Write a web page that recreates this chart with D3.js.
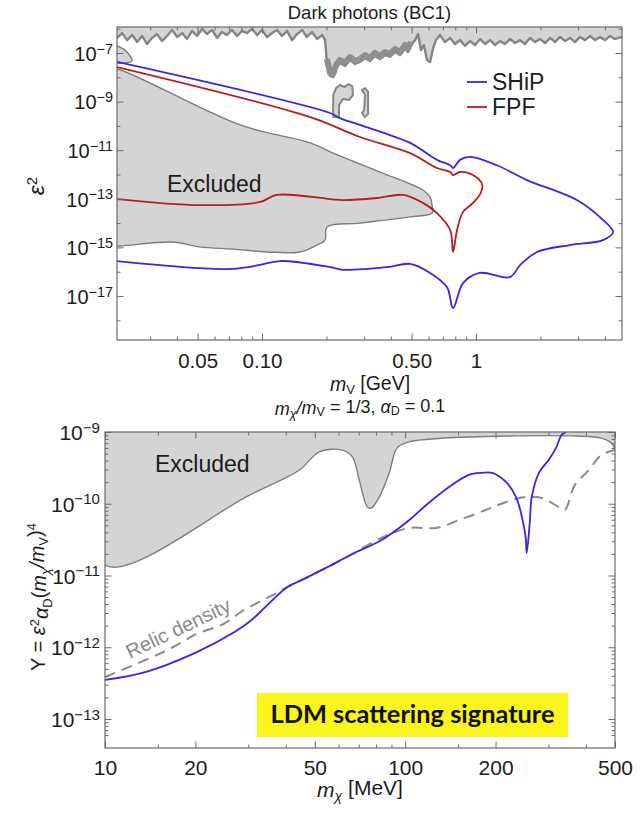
<!DOCTYPE html>
<html>
<head>
<meta charset="utf-8">
<script src="https://cdn.jsdelivr.net/npm/d3@7"></script>
<style>
  html, body { margin: 0; padding: 0; background: #fff; }
  svg { display: block; font-family: "Liberation Sans", Arial, Helvetica, sans-serif; }
</style>
</head>
<body>
<svg id="chart" width="642" height="813"></svg>
<script>
// ================= Upper panel: dark photons (BC1), epsilon^2 vs m_V [GeV] =================

// SHiP sensitivity contour: [m_V (GeV), epsilon^2], upper branch -> tip -> lower branch
const shipContour = [
  [0.021, 4.3e-8], [0.208, 3.4e-10], [0.231, 2.1e-10], [0.287, 1.1e-10], [0.492, 2.0e-11],
  [0.657, 4.0e-12], [0.757, 2.4e-12], [0.781, 1.85e-12], [0.842, 4.0e-12], [0.938, 5.3e-12],
  [1.25, 2.4e-12], [1.73, 5.9e-13], [2.96, 8.9e-14], [3.92, 1.35e-14], [4.37, 4.3e-15],
  [3.92, 2.0e-15], [2.75, 1.25e-15], [1.93, 6.5e-16], [1.61, 1.9e-16], [1.44, 6.0e-17],
  [1.04, 8.9e-17], [0.87, 3.4e-17], [0.781, 3.2e-18], [0.732, 2.3e-17], [0.61, 8.9e-17],
  [0.492, 2.1e-16], [0.384, 1.55e-16], [0.239, 1.2e-16], [0.208, 1.55e-16], [0.121, 2.75e-16],
  [0.098, 1.9e-16], [0.073, 1.3e-16], [0.051, 1.4e-16], [0.021, 2.75e-16]
];

// FPF sensitivity contour
const fpfContour = [
  [0.021, 2.65e-8], [0.168, 2.3e-10], [0.287, 3.5e-11], [0.492, 7.6e-12], [0.657, 1.85e-12],
  [0.757, 1.27e-12], [0.781, 9.5e-13], [0.842, 1.27e-12], [0.968, 9.5e-13], [1.07, 3.7e-13],
  [1.04, 1.45e-13], [0.968, 6.8e-14], [0.87, 2.9e-14], [0.815, 5.2e-15], [0.781, 6.5e-16],
  [0.757, 5.2e-15], [0.657, 2.6e-14], [0.565, 6.8e-14], [0.456, 1.45e-13], [0.344, 1.08e-13],
  [0.239, 8.9e-14], [0.208, 9.8e-14], [0.117, 1.45e-13], [0.098, 7.4e-14], [0.051, 5.5e-14],
  [0.021, 9.8e-14]
];

// Excluded region (beam dumps / supernova), closed outline
const excludedLow = [
  [0.019, 2.2e-8], [0.021, 2.2e-8], [0.079, 1.1e-10], [0.168, 2.0e-11], [0.215, 7.6e-12],
  [0.356, 1.26e-12], [0.565, 2.3e-13], [0.61, 1.17e-13], [0.623, 5.5e-14], [0.623, 2.6e-14],
  [0.492, 1.8e-14], [0.287, 1.0e-14], [0.201, 6.9e-15], [0.197, 2.0e-15], [0.181, 1.25e-15],
  [0.151, 6.5e-16], [0.105, 6.5e-16], [0.073, 8.5e-16], [0.051, 1.05e-15], [0.038, 1.66e-15],
  [0.0217, 1.15e-15], [0.019, 1.15e-15]
];

// Small excluded lobe at the low-mass edge
const excludedLobe = [
  [0.019, 2.6e-7], [0.0229, 1.32e-7], [0.0243, 6.9e-8], [0.0247, 4.7e-8], [0.0229, 3.9e-8], [0.019, 3.9e-8]
];

// Lower edge of the excluded band at large coupling (collider searches): [m_V, log10 epsilon^2]
const bandEdgeExp = [
  [0.0210, -6.38], [0.0222, -6.18], [0.0234, -6.47], [0.0247, -6.26], [0.0261, -6.55], [0.0275, -6.30],
  [0.0290, -6.63], [0.0306, -6.38], [0.0323, -6.22], [0.0341, -6.51], [0.0360, -6.30], [0.0380, -6.05],
  [0.0401, -6.34], [0.0423, -6.18], [0.0446, -6.42], [0.0471, -6.09], [0.0497, -6.30], [0.0525, -6.01],
  [0.0553, -6.22], [0.0584, -6.05], [0.0616, -6.38], [0.0650, -6.14], [0.0686, -6.26], [0.0724, -6.05],
  [0.0764, -6.30], [0.0806, -6.09], [0.0851, -6.18], [0.0898, -6.01], [0.0948, -6.26], [0.100, -6.05],
  [0.1055, -6.34], [0.1114, -6.18], [0.1175, -6.05], [0.124, -6.30], [0.131, -6.09], [0.138, -6.47],
  [0.146, -6.22], [0.154, -6.05], [0.162, -6.34], [0.171, -6.14], [0.181, -6.42], [0.191, -6.26],
  [0.197, -6.47], [0.201, -7.37], [0.208, -7.95], [0.215, -7.99], [0.222, -7.62], [0.231, -7.41],
  [0.244, -7.53], [0.258, -7.29], [0.272, -7.45], [0.287, -7.37], [0.303, -7.21], [0.320, -7.33],
  [0.337, -7.12], [0.356, -7.25], [0.376, -7.08], [0.397, -7.16], [0.418, -6.96], [0.442, -7.08],
  [0.466, -6.79], [0.481, -6.96], [0.497, -6.67], [0.519, -6.47], [0.536, -6.22], [0.553, -6.88],
  [0.571, -6.67], [0.590, -7.29], [0.610, -7.37], [0.630, -6.79], [0.650, -6.47], [0.679, -6.26],
  [0.716, -6.55], [0.757, -6.38], [0.798, -6.63], [0.842, -6.47], [0.889, -6.71], [0.938, -6.51],
  [0.989, -6.67], [1.044, -6.42], [1.102, -6.63], [1.162, -6.47], [1.227, -6.67], [1.295, -6.51],
  [1.366, -6.63], [1.442, -6.42], [1.521, -6.59], [1.605, -6.47], [1.694, -6.63], [1.788, -6.38],
  [1.887, -6.55], [1.991, -6.42], [2.10, -6.59], [2.22, -6.38], [2.34, -6.55], [2.47, -6.34],
  [2.61, -6.51], [2.75, -6.38], [2.90, -6.55], [3.06, -6.34], [3.23, -6.47], [3.41, -6.30],
  [3.60, -6.47], [3.80, -6.34], [4.01, -6.47], [4.23, -6.30], [4.46, -6.42], [4.81, -6.34]
];

// Two small excluded islands below the band
const islandA = [
  [0.215, 2.3e-10], [0.215, 1.86e-9], [0.222, 3.6e-9], [0.231, 4.8e-9], [0.244, 4.0e-9], [0.252, 5.2e-9],
  [0.264, 4.4e-9], [0.266, 1.86e-9], [0.255, 1.17e-9], [0.239, 1.29e-9], [0.229, 7.2e-10], [0.229, 2.3e-10]
];
const islandB = [
  [0.293, 3.0e-9], [0.303, 3.6e-9], [0.313, 2.5e-9], [0.313, 3.1e-10], [0.303, 2.3e-10],
  [0.293, 3.4e-10], [0.300, 4.5e-10], [0.303, 1.86e-9]
];

const topXMajor = [0.05, 0.1, 0.5, 1];
const topXMajorLabels = ["0.05", "0.10", "0.50", "1"];
const topXMinor = [0.03, 0.04, 0.06, 0.07, 0.08, 0.09, 0.2, 0.3, 0.4, 0.6, 0.7, 0.8, 0.9, 2, 3, 4];
const topYMajor = [1e-7, 1e-9, 1e-11, 1e-13, 1e-15, 1e-17];
const topYMinor = [1e-6, 1e-8, 1e-10, 1e-12, 1e-14, 1e-16, 1e-18];

const legendNames = ["SHiP", "FPF"];
const legendColors = ["#3b25dd", "#b81c22"];

// ================= Lower panel: LDM scattering, Y vs m_chi [MeV] =================

const sciBlue = [
  [10, 3.5e-13], [13.6, 4.5e-13], [19.9, 8.3e-13], [27.0, 1.63e-12], [30.8, 2.4e-12], [34.8, 3.9e-12],
  [40.5, 6.9e-12], [45.1, 8.6e-12], [55.1, 1.31e-11], [67.7, 2.06e-11], [83.2, 3.1e-11], [103, 5.9e-11],
  [117.5, 9.6e-11], [140, 1.71e-10], [163, 2.52e-10], [180, 2.7e-10], [195, 2.7e-10], [217, 2.0e-10],
  [234, 1.24e-10], [245, 6.5e-11], [252, 3.4e-11], [254, 2.06e-11], [260, 5.4e-11], [264, 1.24e-10],
  [279, 2.7e-10], [301, 4.1e-10], [318, 6.0e-10], [332, 9.1e-10], [343, 1.0e-9], [364, 1.5e-9]
];

const relicDensity = [
  [10, 3.85e-13], [16.2, 9.2e-13], [20.2, 1.53e-12], [24.8, 2.11e-12], [28.7, 3.2e-12], [32.7, 4.3e-12],
  [37.3, 5.7e-12], [40.5, 6.9e-12], [55.1, 1.31e-11], [67.7, 2.06e-11], [85.2, 3.5e-11], [103, 4.6e-11],
  [127, 4.6e-11], [151, 5.9e-11], [186, 8.2e-11], [217, 1.06e-10], [252, 1.24e-10], [285, 1.2e-10],
  [325, 9.0e-11], [340, 8.2e-11], [367, 1.82e-10], [409, 2.95e-10], [451, 4.8e-10], [500, 5.6e-10]
];

const excludedLDM = [
  [10, 3e-9], [10, 1.4e-11], [30.3, 1.32e-10], [44.4, 2.95e-10], [51.8, 5.3e-10], [61.8, 5.6e-10],
  [66.7, 4.5e-10], [70.3, 2.14e-10], [74.8, 9.0e-11], [77.1, 8.7e-11], [82.0, 1.24e-10], [88.5, 2.7e-10],
  [94.0, 6.0e-10], [103, 7.3e-10], [133, 8.2e-10], [222, 8.8e-10], [370, 8.8e-10], [451, 8.2e-10],
  [487, 7.0e-10], [500, 6.0e-10], [500, 3e-9]
];

const botXMajor = [10, 20, 50, 100, 200, 500];
const botXMinor = [15, 30, 40, 60, 70, 80, 90, 150, 300, 400];
const botYMajor = [1e-13, 1e-12, 1e-11, 1e-10, 1e-9];

// ================= drawing =================
const svg = d3.select("#chart");
const FRAME = "#6b6b6b";
const INK = "#1c1c1c";
const FILL = "#d4d4d4";
const EDGE = "#7d7d7d";

const xTop = d3.scaleLog().domain([0.021, 4.81]).range([117, 622]);
const yTop = d3.scaleLog().domain([Math.pow(10, -18.81), Math.pow(10, -5.93)]).range([340, 27]);
const xBot = d3.scaleLog().domain([10, 500]).range([105, 615]);
const yBot = d3.scaleLog().domain([Math.pow(10, -13.404), 1e-9]).range([748, 432]);

const defs = svg.append("defs");
function clip(id, x, y) {
  defs.append("clipPath").attr("id", id).append("rect")
    .attr("x", x.range()[0]).attr("y", y.range()[1])
    .attr("width", x.range()[1] - x.range()[0]).attr("height", y.range()[0] - y.range()[1]);
}
clip("clipTop", xTop, yTop);
clip("clipBot", xBot, yBot);

function powerText(sel, size) {
  sel.each(function (d) {
    const t = d3.select(this);
    const e = Math.round(Math.log10(d));
    t.text(null).attr("font-size", size + "px").attr("fill", INK);
    t.append("tspan").text("10");
    t.append("tspan").attr("dy", "-0.5em").attr("font-size", (size * 0.72) + "px")
      .text((e < 0 ? "\u2212" : "") + Math.abs(e));
  });
}

function styleAxis(g) {
  g.select(".domain").remove();
  g.selectAll(".tick line").attr("stroke", FRAME);
}

function frameAxes(x, y, opts) {
  const [x0, x1] = x.range();
  const [y0, y1] = y.range();
  const g = svg.append("g");
  // minor ticks on all four sides
  g.append("g").attr("transform", `translate(0,${y0})`)
    .call(d3.axisBottom(x).tickValues(opts.xMinor).tickSize(-3.5).tickFormat("")).call(styleAxis);
  g.append("g").attr("transform", `translate(0,${y1})`)
    .call(d3.axisTop(x).tickValues(opts.xMinor).tickSize(-3.5).tickFormat("")).call(styleAxis);
  g.append("g").attr("transform", `translate(${x0},0)`)
    .call(d3.axisLeft(y).tickValues(opts.yMinor).tickSize(-3.5).tickFormat("")).call(styleAxis);
  g.append("g").attr("transform", `translate(${x1},0)`)
    .call(d3.axisRight(y).tickValues(opts.yMinor).tickSize(-3.5).tickFormat("")).call(styleAxis);
  // major ticks
  const bx = g.append("g").attr("transform", `translate(0,${y0})`)
    .call(d3.axisBottom(x).tickValues(opts.xMajor).tickSize(-6.5).tickPadding(opts.xPad)
      .tickFormat((d, i) => opts.xLabels[i])).call(styleAxis);
  bx.selectAll(".tick text").attr("font-size", opts.xFont + "px").attr("fill", INK)
    .attr("font-family", "Liberation Sans, Arial, sans-serif");
  g.append("g").attr("transform", `translate(0,${y1})`)
    .call(d3.axisTop(x).tickValues(opts.xMajor).tickSize(-6.5).tickFormat("")).call(styleAxis);
  const ly = g.append("g").attr("transform", `translate(${x0},0)`)
    .call(d3.axisLeft(y).tickValues(opts.yMajor).tickSize(-6.5).tickPadding(opts.yPad)).call(styleAxis);
  ly.selectAll(".tick text").attr("dy", "0.36em").attr("font-family", "Liberation Sans, Arial, sans-serif")
    .call(powerText, opts.yFont);
  g.append("g").attr("transform", `translate(${x1},0)`)
    .call(d3.axisRight(y).tickValues(opts.yMajor).tickSize(-6.5).tickFormat("")).call(styleAxis);
  // frame
  g.append("rect").attr("x", x0).attr("y", y1).attr("width", x1 - x0).attr("height", y0 - y1)
    .attr("fill", "none").attr("stroke", FRAME).attr("stroke-width", 1.2);
}

const lineTop = d3.line().x(d => xTop(d[0])).y(d => yTop(d[1]));
const curveTop = d3.line().x(d => xTop(d[0])).y(d => yTop(d[1])).curve(d3.curveCatmullRom.alpha(0.5));

// ---- upper panel ----
const pTop = svg.append("g").attr("clip-path", "url(#clipTop)");

const bandPts = bandEdgeExp.map(d => [d[0], Math.pow(10, d[1])]);
const bandPoly = [[4.81 * 1.2, 1e-5], [0.021 / 1.2, 1e-5], [0.021 / 1.2, bandPts[0][1]]]
  .concat(bandPts)
  .concat([[4.81 * 1.2, bandPts[bandPts.length - 1][1]]]);
pTop.append("path").attr("d", lineTop(bandPoly) + "Z")
  .attr("fill", FILL).attr("stroke", "#858585").attr("stroke-width", 2.4).attr("stroke-linejoin", "round");
// dense overlapping limits between 0.2 and 0.5 GeV give a darker edge
pTop.append("path").attr("d", lineTop(bandPts.filter(d => d[0] >= 0.2 && d[0] <= 0.5)))
  .attr("fill", "none").attr("stroke", "#8f8f8f").attr("stroke-width", 6).attr("stroke-linejoin", "round")
  .attr("transform", "translate(0,-3)");

[islandA, islandB].forEach(isl => {
  pTop.append("path").attr("d", lineTop(isl) + "Z")
    .attr("fill", FILL).attr("stroke", "#858585").attr("stroke-width", 2).attr("stroke-linejoin", "round");
});

[excludedLow, excludedLobe].forEach(reg => {
  pTop.append("path").attr("d", curveTop(reg) + "Z")
    .attr("fill", FILL).attr("stroke", EDGE).attr("stroke-width", 1.4);
});

pTop.append("path").attr("d", curveTop(fpfContour)).attr("fill", "none")
  .attr("stroke", legendColors[1]).attr("stroke-width", 1.8);
pTop.append("path").attr("d", curveTop(shipContour)).attr("fill", "none")
  .attr("stroke", legendColors[0]).attr("stroke-width", 1.8);

frameAxes(xTop, yTop, {
  xMajor: topXMajor, xLabels: topXMajorLabels, xMinor: topXMinor,
  yMajor: topYMajor, yMinor: topYMinor, xPad: 13, yPad: 4, xFont: 20.5, yFont: 20
});

svg.append("text").attr("x", 167).attr("y", 192).attr("font-size", "23px").attr("fill", INK)
  .text("Excluded");

// legend
legendNames.forEach((name, i) => {
  const ly = 82 + i * 25;
  svg.append("line").attr("x1", 467).attr("x2", 487).attr("y1", ly).attr("y2", ly)
    .attr("stroke", legendColors[i]).attr("stroke-width", 1.8);
  svg.append("text").attr("x", 492).attr("y", ly + 7.5).attr("font-size", "23px").attr("fill", INK)
    .text(name);
});

// title
svg.append("text").attr("x", 369.5).attr("y", 19).attr("text-anchor", "middle")
  .attr("font-size", "18.5px").attr("fill", INK).text("Dark photons (BC1)");

// y label epsilon^2
const eLab = svg.append("text").attr("transform", "translate(44,186) rotate(-90)")
  .attr("text-anchor", "middle").attr("font-size", "23px").attr("fill", INK);
eLab.append("tspan").attr("font-style", "italic").text("\u03b5");
eLab.append("tspan").attr("dy", "-0.45em").attr("font-size", "15px").text("2");

// x label m_V [GeV]
const mvLab = svg.append("text").attr("x", 370).attr("y", 391).attr("text-anchor", "middle")
  .attr("font-size", "19.5px").attr("fill", INK);
mvLab.append("tspan").attr("font-style", "italic").text("m");
mvLab.append("tspan").attr("dy", "0.2em").attr("font-size", "13px").text("V");
mvLab.append("tspan").attr("dy", "-0.2em").text(" [GeV]");

// ---- lower panel ----
const curveBot = d3.line().x(d => xBot(d[0])).y(d => yBot(d[1])).curve(d3.curveCatmullRom.alpha(0.5));
const pBot = svg.append("g").attr("clip-path", "url(#clipBot)");

pBot.append("path").attr("d", curveBot(excludedLDM) + "Z")
  .attr("fill", FILL).attr("stroke", EDGE).attr("stroke-width", 1.4);
pBot.append("path").attr("d", curveBot(relicDensity)).attr("fill", "none")
  .attr("stroke", "#8a8a8a").attr("stroke-width", 2).attr("stroke-dasharray", "11,7");
pBot.append("path").attr("d", curveBot(sciBlue)).attr("fill", "none")
  .attr("stroke", legendColors[0]).attr("stroke-width", 1.8);

frameAxes(xBot, yBot, {
  xMajor: botXMajor, xLabels: botXMajor.map(String), xMinor: botXMinor,
  yMajor: botYMajor,
  yMinor: botYMajor.slice(0, -1).flatMap(p => [2, 3, 4, 5, 6, 7, 8, 9].map(k => k * p))
    .concat([6e-14, 7e-14, 8e-14, 9e-14]).filter(v => v >= yBot.domain()[0]),
  xPad: 12, yPad: 5, xFont: 21, yFont: 21
});

svg.append("text").attr("x", 155).attr("y", 472).attr("font-size", "23px").attr("fill", INK)
  .text("Excluded");

svg.append("text").attr("transform", "translate(130,659) rotate(-25.5)")
  .attr("font-size", "20px").attr("fill", "#8a8a8a").text("Relic density");

// highlighted tag
svg.append("rect").attr("x", 257).attr("y", 693).attr("width", 311).attr("height", 44).attr("fill", "#f8f41c");
svg.append("text").attr("x", 412.5).attr("y", 723).attr("text-anchor", "middle")
  .attr("font-family", "Lato, 'Open Sans', sans-serif").attr("font-weight", 700)
  .attr("font-size", "24px").attr("fill", "#111").attr("textLength", 284)
  .attr("lengthAdjust", "spacingAndGlyphs").text("LDM scattering signature");

// heading
const head = svg.append("text").attr("x", 360).attr("y", 415).attr("text-anchor", "middle")
  .attr("font-size", "18px").attr("fill", INK);
head.append("tspan").attr("font-style", "italic").text("m");
head.append("tspan").attr("dy", "0.2em").attr("font-size", "12.5px").attr("font-style", "italic").text("\u03c7");
head.append("tspan").attr("dy", "-0.2em").attr("font-style", "italic").text("/m");
head.append("tspan").attr("dy", "0.2em").attr("font-size", "12.5px").text("V");
head.append("tspan").attr("dy", "-0.2em").text(" = 1/3, ");
head.append("tspan").attr("font-style", "italic").text("\u03b1");
head.append("tspan").attr("dy", "0.2em").attr("font-size", "12.5px").text("D");
head.append("tspan").attr("dy", "-0.2em").text(" = 0.1");

// y label
const yLab = svg.append("text").attr("transform", "translate(45,597) rotate(-90)")
  .attr("text-anchor", "middle").attr("font-size", "20px").attr("fill", INK);
yLab.append("tspan").text("Y = ");
yLab.append("tspan").attr("font-style", "italic").text("\u03b5");
yLab.append("tspan").attr("dy", "-0.45em").attr("font-size", "13px").text("2");
yLab.append("tspan").attr("dy", "0.45em").attr("font-style", "italic").text("\u03b1");
yLab.append("tspan").attr("dy", "0.3em").attr("font-size", "13px").text("D");
yLab.append("tspan").attr("dy", "-0.3em").text("(");
yLab.append("tspan").attr("font-style", "italic").text("m");
yLab.append("tspan").attr("dy", "0.3em").attr("font-size", "13px").attr("font-style", "italic").text("\u03c7");
yLab.append("tspan").attr("dy", "-0.3em").attr("font-style", "italic").text("/m");
yLab.append("tspan").attr("dy", "0.3em").attr("font-size", "13px").text("V");
yLab.append("tspan").attr("dy", "-0.3em").text(")");
yLab.append("tspan").attr("dy", "-0.45em").attr("font-size", "13px").text("4");

// x label
const xLab = svg.append("text").attr("x", 360).attr("y", 797).attr("text-anchor", "middle")
  .attr("font-size", "21px").attr("fill", INK);
xLab.append("tspan").attr("font-style", "italic").text("m");
xLab.append("tspan").attr("dy", "0.25em").attr("font-size", "14px").attr("font-style", "italic").text("\u03c7");
xLab.append("tspan").attr("dy", "-0.25em").text(" [MeV]");
</script>
</body>
</html>
